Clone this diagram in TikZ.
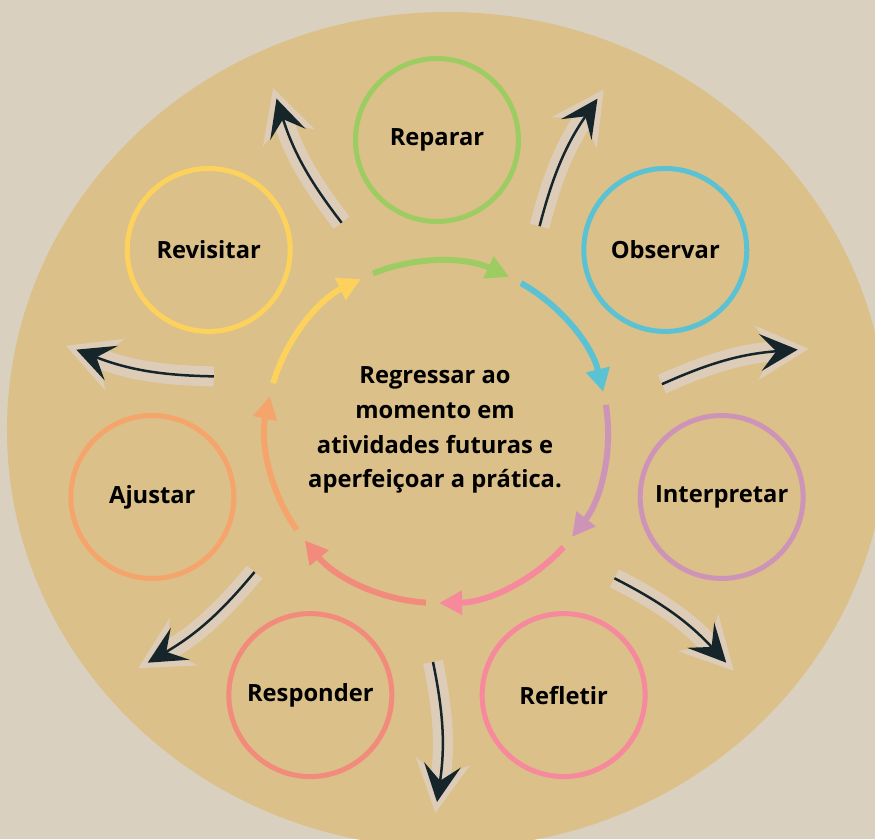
\documentclass[tikz,border=0pt]{standalone}
\usepackage{fontspec}
\setmainfont{Open Sans}
\usetikzlibrary{arrows.meta}
\definecolor{fundo}{RGB}{217,208,191}
\definecolor{mancha}{RGB}{219,192,137}
\definecolor{papel}{RGB}{221,205,184}
\definecolor{tinta}{RGB}{21,37,42}
\definecolor{verde}{RGB}{157,205,98}
\definecolor{azul}{RGB}{91,194,211}
\definecolor{lilas}{RGB}{206,148,184}
\definecolor{rosa}{RGB}{246,137,155}
\definecolor{salmao}{RGB}{242,139,124}
\definecolor{laranja}{RGB}{245,165,108}
\definecolor{amarelo}{RGB}{252,210,92}

\tikzset{
        etapa/.style = {circle, draw, line width=0.1cm, minimum size=3.26cm, inner sep=0pt, text=black, font=\bfseries\fontsize{13.5}{16}\selectfont},
        ciclo/.style = {line width=0.12cm, -{Triangle[length=0.46cm,width=0.46cm]}},
        halo/.style = {draw=papel, line width=0.4cm, shorten >=-0.22cm, -{Stealth[length=1.05cm,width=1.1cm,inset=0.35cm,line width=0pt]}},
        seta/.style = {draw=tinta, line width=0.05cm, -{Stealth[length=0.75cm,width=0.74cm,inset=0.32cm]}}
    }

\begin{document}
\begin{tikzpicture}[x=0.02cm,y=0.02cm]
            \useasboundingbox (-437,-407) rectangle (438,432);
            \clip (-437,-407) rectangle (438,432);
            \fill[fundo] (-437,-407) rectangle (438,432);
            \fill[mancha] (10,2) ellipse[x radius=440, y radius=418];

            \node[etapa,draw=verde] (reparar) at (90:292) {Reparar};
            \node[etapa,draw=azul] (observar) at (38.57:292) {Observar};
            \node[etapa,draw=lilas] (interpretar) at (-12.86:292) {Interpretar};
            \node[etapa,draw=rosa] (refletir) at (-64.29:292) {Refletir};
            \node[etapa,draw=salmao] (responder) at (-115.71:292) {Responder};
            \node[etapa,draw=laranja] (ajustar) at (-167.14:292) {Ajustar};
            \node[etapa,draw=amarelo] (revisitar) at (141.43:292) {Revisitar};

            \node[align=center, text=black, font=\bfseries\fontsize{13.5}{19.8}\selectfont] (centro) at (-2,2) {Regressar ao\\momento em\\atividades futuras e\\aperfeiçoar a prática.};

            \coordinate (c1) at (112:171);
            \coordinate (c2) at (60.57:171);
            \coordinate (c3) at (9.14:171);
            \coordinate (c4) at (-42.29:171);
            \coordinate (c5) at (-93.71:171);
            \coordinate (c6) at (-145.14:171);
            \coordinate (c7) at (163.43:171);

            \draw[ciclo,verde] (c1) arc[start angle=112, end angle=65, radius=171];
            \draw[ciclo,azul] (c2) arc[start angle=60.57, end angle=13.57, radius=171];
            \draw[ciclo,lilas] (c3) arc[start angle=9.14, end angle=-37.86, radius=171];
            \draw[ciclo,rosa] (c4) arc[start angle=-42.29, end angle=-89.29, radius=171];
            \draw[ciclo,salmao] (c5) arc[start angle=-93.71, end angle=-140.71, radius=171];
            \draw[ciclo,laranja] (c6) arc[start angle=-145.14, end angle=-192.14, radius=171];
            \draw[ciclo,amarelo] (c7) arc[start angle=163.43, end angle=116.43, radius=171];

            \coordinate (s1) at (63.5:230);
            \coordinate (t1) at (64.29:370);
            \coordinate (s2) at (12:230);
            \coordinate (t2) at (12.86:370);
            \coordinate (s3) at (-39.5:230);
            \coordinate (t3) at (-38.57:370);
            \coordinate (s4) at (-91:230);
            \coordinate (t4) at (-90:370);
            \coordinate (s5) at (-142.5:230);
            \coordinate (t5) at (-141.43:370);
            \coordinate (s6) at (166:230);
            \coordinate (t6) at (167.14:370);
            \coordinate (s7) at (114.5:230);
            \coordinate (t7) at (115.71:370);

            \draw[halo] (s1) to[bend left=10] (t1);
            \draw[halo] (s2) to[bend left=10] (t2);
            \draw[halo] (s3) to[bend left=10] (t3);
            \draw[halo] (s4) to[bend left=10] (t4);
            \draw[halo] (s5) to[bend left=10] (t5);
            \draw[halo] (s6) to[bend left=10] (t6);
            \draw[halo] (s7) to[bend left=10] (t7);

            \draw[seta] (s1) to[bend left=10] (t1);
            \draw[seta] (s2) to[bend left=10] (t2);
            \draw[seta] (s3) to[bend left=10] (t3);
            \draw[seta] (s4) to[bend left=10] (t4);
            \draw[seta] (s5) to[bend left=10] (t5);
            \draw[seta] (s6) to[bend left=10] (t6);
            \draw[seta] (s7) to[bend left=10] (t7);
        \end{tikzpicture}
\end{document}
